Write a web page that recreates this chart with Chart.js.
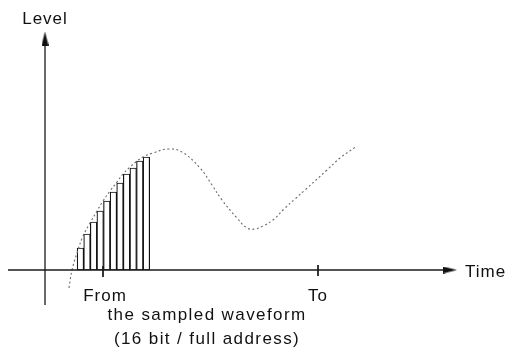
<!DOCTYPE html>
<html>
<head>
<meta charset="utf-8">
<script src="https://cdn.jsdelivr.net/npm/chart.js@4/dist/chart.umd.min.js"></script>
<style>
  body { margin: 0; background: #fff; }
  #wrap { position: relative; width: 506px; height: 358px; }
  .lbl {
    position: absolute; font-family: "Liberation Sans", Arial, sans-serif;
    font-size: 17px; line-height: 17px; color: #111; white-space: nowrap;
    letter-spacing: 1px; transform: translate(-50%, -50%);
  }
  .cap { letter-spacing: 1.4px; }
</style>
</head>
<body>
<div id="wrap">
  <canvas id="chartWave" width="506" height="358"></canvas>
  <div class="lbl" style="left:45px; top:18px;">Level</div>
  <div class="lbl" style="left:465px; top:271px; transform: translate(0, -50%);">Time</div>
  <div class="lbl" style="left:105px; top:295px;">From</div>
  <div class="lbl" style="left:318px; top:295px;">To</div>
  <div class="lbl cap" style="left:207px; top:314px;">the sampled waveform</div>
  <div class="lbl cap" style="left:207px; top:338px;">(16 bit / full address)</div>
</div>
<script>
// waveform (time, level)
var waveTime  = [12, 13.5, 16, 19, 22.5, 26, 29, 32.5, 36, 39, 42.5, 46, 49, 54, 61.5, 68.5, 77.5, 83.5, 88.5, 96, 101, 105, 109, 114, 120, 125, 130, 141, 147.5, 156];
var waveLevel = [-9, 0, 8.5, 17, 23.5, 29.5, 34.5, 39.5, 44, 48, 51.5, 54.5, 56.5, 58.5, 60.5, 59, 51, 42.5, 35, 26, 21, 20.5, 22, 25, 31, 35.5, 40, 50, 56, 62];

// samples (bars)
var sampleTime  = [17.7, 21.0, 24.3, 27.6, 30.9, 34.2, 37.5, 40.8, 44.1, 47.4, 50.7];
var sampleLevel = [11, 18, 24, 29.5, 34.5, 39, 43.5, 48, 51, 54.5, 56.5];

// axes and marks
var fromTime = 29;
var toTime = 136.5;
var axisTimeRange = [-18.5, 202.5];
var axisLevelRange = [-17.5, 115.75];

function pts(xs, ys) {
    return xs.map(function (x, i) { return { x: x, y: ys[i] }; });
}

function arrowHead(w, h) {
    var c = document.createElement('canvas');
    c.width = w; c.height = h;
    var g = c.getContext('2d');
    g.fillStyle = '#111';
    g.beginPath();
    g.moveTo(w / 2, 0);
    g.lineTo(w, h);
    g.lineTo(0, h);
    g.closePath();
    g.fill();
    return c;
}
var arrow = arrowHead(7, 14);

var axisStyle = { type: 'line', borderColor: '#1a1a1a', borderWidth: 1.3, fill: false, tension: 0, order: 0 };

var ctx = document.getElementById('chartWave').getContext('2d');
var chartWave = new Chart(ctx, {
    type: 'line',
    data: {
        datasets: [
            Object.assign({}, axisStyle, {
                data: pts(axisTimeRange, [0, 0]),
                pointRadius: [0, 4], pointStyle: [false, arrow], pointRotation: [0, 90]
            }),
            Object.assign({}, axisStyle, {
                data: pts([0, 0], axisLevelRange),
                pointRadius: [0, 4], pointStyle: [false, arrow], pointRotation: [0, 0]
            }),
            Object.assign({}, axisStyle, { data: pts([fromTime, fromTime], [2, -3.5]), pointRadius: 0, borderWidth: 1 }),
            Object.assign({}, axisStyle, { data: pts([toTime, toTime], [2.5, -3]), pointRadius: 0, borderWidth: 1 }),
            {
                type: 'line',
                data: pts(waveTime, waveLevel),
                borderColor: '#6a6a6a',
                borderWidth: 1.1,
                borderDash: [2, 2.5],
                pointRadius: 0,
                tension: 0.4,
                fill: false,
                order: 0
            },
            {
                type: 'bar',
                data: pts(sampleTime, sampleLevel),
                backgroundColor: '#fff',
                borderColor: '#111',
                borderWidth: 1.2,
                borderSkipped: false,
                barPercentage: 1,
                categoryPercentage: 1,
                order: 1
            }
        ]
    },
    options: {
        responsive: false,
        animation: false,
        events: [],
        layout: { padding: 0, autoPadding: false },
        plugins: { legend: { display: false }, tooltip: { enabled: false } },
        scales: {
            x: { type: 'linear', min: -22.5, max: 230.5, offset: false, grace: 0, display: false },
            y: { type: 'linear', min: -44, max: 135, offset: false, grace: 0, display: false }
        }
    }
});
</script>
</body>
</html>
